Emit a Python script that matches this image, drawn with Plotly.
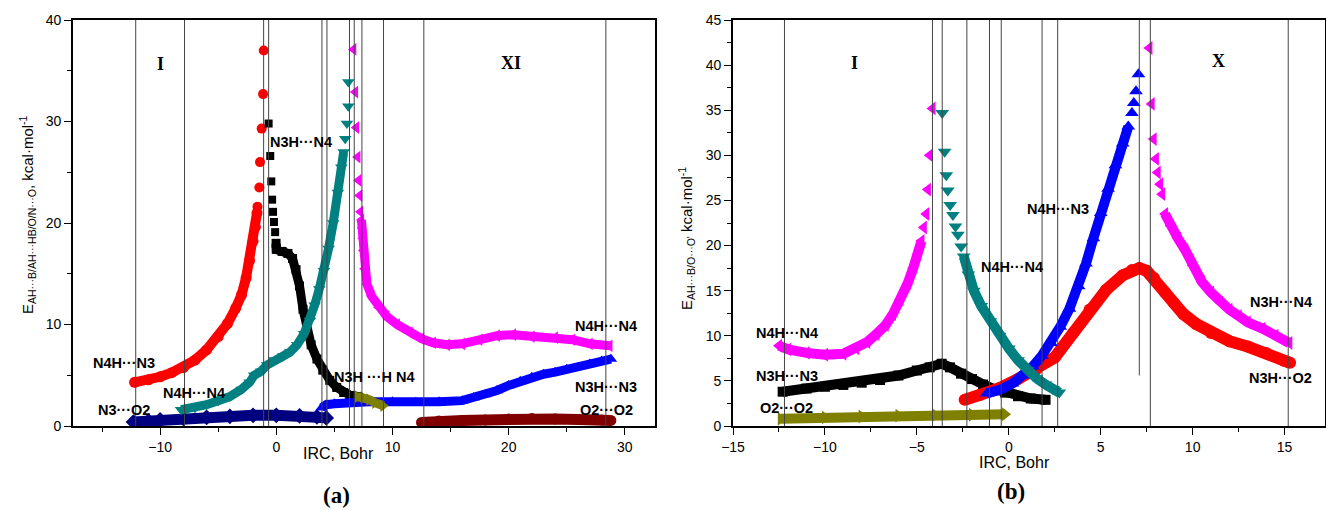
import plotly.graph_objects as go

# ================= Panel (a) data =================
# N4H...N3 (red circles)
a_red_x = [-12.2, -11, -10, -9, -8, -7, -6, -5, -4.2, -3.5, -3.0, -2.6, -2.3, -2.0, -1.8, -1.66]
a_red_y = [4.3, 4.55, 4.85, 5.25, 5.75, 6.5, 7.5, 8.8, 10.1, 11.6, 12.9, 14.6, 16.3, 18.2, 19.6, 21.0]
a_red_top_x = [-1.62, -1.46, -1.4, -1.26, -1.14, -1.08]
a_red_top_y = [21.6, 23.5, 26.0, 29.3, 32.7, 37.0]
# N3H...N4 (black squares)
a_blk_x = [-0.02, 0.0, 0.5, 1.0, 1.4, 1.7, 2.0, 2.3, 2.6, 3.0, 3.5, 4.0, 4.6, 5.2, 5.8, 6.4, 7.0]
a_blk_y = [18.0, 17.4, 17.2, 17.0, 16.5, 15.4, 13.8, 11.5, 9.8, 8.0, 6.6, 5.5, 4.5, 3.8, 3.3, 3.0, 2.9]
a_blk_top_x = [-0.66, -0.52, -0.43, -0.36, -0.28, -0.2, -0.1]
a_blk_top_y = [29.8, 26.6, 24.1, 22.3, 21.1, 20.1, 19.1]
# N4H...N4 (teal down triangles)
a_teal_x = [-8.2, -7, -6, -5, -4, -3, -2.3, -1.9, -1.3, -0.8, -0.2, 0.6, 1.2, 1.8, 2.4, 2.9, 3.3, 3.7, 4.1, 4.5, 4.9, 5.3, 5.6, 5.8]
a_teal_y = [1.6, 1.8, 2.1, 2.5, 2.9, 3.6, 4.3, 5.0, 5.4, 6.0, 6.5, 6.9, 7.3, 8.0, 9.1, 10.4, 11.9, 13.5, 15.3, 17.5, 20.0, 23.0, 25.5, 27.0]
a_teal_top_x = [5.93, 6.08, 6.2, 6.2]
a_teal_top_y = [28.3, 29.8, 31.5, 33.9]
# N4H...N4 (magenta left triangles)
a_mag_x = [7.33, 7.4, 7.45, 7.5, 7.6, 7.8, 8.2, 8.8, 9.5, 10.4, 11.5, 12.5, 13.5, 14.7, 16, 17.5, 19, 20.4, 22, 24, 25.5, 27, 28.7]
a_mag_y = [20.3, 19.5, 18.5, 17.3, 15.5, 14.0, 12.8, 11.7, 10.8, 10.0, 9.2, 8.6, 8.2, 8.0, 8.1, 8.5, 8.9, 9.0, 8.8, 8.7, 8.5, 8.1, 7.9]
a_mag_top_x = [6.65, 6.8, 6.88, 7.0, 7.08, 7.17, 7.25]
a_mag_top_y = [37.1, 32.9, 29.4, 26.5, 24.2, 22.7, 21.1]
# N3H...N3 (blue up triangles)
a_blue_x = [3.9, 4.3, 5, 6, 7, 8, 10, 12, 14, 16, 17, 18, 19, 20, 21, 22, 23, 24, 25, 26, 27, 28, 28.8]
a_blue_y = [1.8, 2.1, 2.2, 2.3, 2.35, 2.4, 2.4, 2.35, 2.4, 2.5, 2.8, 3.1, 3.5, 4.0, 4.4, 4.8, 5.1, 5.3, 5.6, 5.8, 6.1, 6.4, 6.6]
# N3H...H N4 (olive)
a_olive_x = [7.0, 7.5, 8.0, 8.5, 9.2]
a_olive_y = [2.9, 2.8, 2.6, 2.3, 2.0]
# N3...O2 (navy)
a_navy_x = [-12.3, -11, -10, -8, -6, -4, -2, 0, 2, 3.5, 4.3]
a_navy_y = [0.4, 0.5, 0.6, 0.75, 0.85, 0.95, 1.05, 1.05, 1.0, 0.9, 0.8]
# O2...O2 (maroon)
a_mar_x = [12.5, 14, 16, 18, 20, 22, 24, 26, 28, 28.8]
a_mar_y = [0.35, 0.5, 0.55, 0.6, 0.7, 0.75, 0.7, 0.65, 0.6, 0.55]
# vertical reference lines (IRC, Bohr)
a_vlines = [-12.1, -7.9, -1.09, -0.66, 3.93, 4.36, 6.3, 6.71, 7.37, 9.23, 12.7, 28.37]

# ================= Panel (b) data =================
# N4H...N4 (magenta left triangles, left branch)
b_mag1_x = [-12.5, -12, -11, -10, -9, -8.3, -7.7, -7.2, -6.7, -6.3, -5.9, -5.5, -5.2, -4.95, -4.75]
b_mag1_y = [8.9, 8.5, 8.1, 7.9, 8.0, 8.6, 9.3, 10.2, 11.2, 12.4, 14.0, 15.8, 17.5, 19.0, 20.5]
b_mag1_top_x = [-4.62, -4.49, -4.4, -4.3, -4.15]
b_mag1_top_y = [22.0, 23.5, 26.2, 30.0, 35.2]
# N4H...N4 (teal down triangles)
b_teal_x = [-2.45, -2.2, -1.9, -1.5, -1.0, -0.5, 0, 0.5, 1.0, 1.5, 2.0, 2.4, 2.75]
b_teal_y = [18.8, 16.8, 15.0, 13.3, 11.6, 10.0, 8.6, 7.3, 6.2, 5.3, 4.6, 4.1, 3.7]
b_teal_top_x = [-3.62, -3.49, -3.4, -3.32, -3.19, -3.04, -2.9, -2.77, -2.59]
b_teal_top_y = [34.7, 30.4, 27.8, 26.1, 24.5, 23.4, 22.1, 21.2, 19.9]
# N3H...N3 (black squares)
b_blk_x = [-12.3, -11, -10, -9, -8, -7, -6, -5, -4.3, -3.65, -3.2, -2.6, -2, -1.4, -0.8, -0.2, 0.5, 1.2, 2.0]
b_blk_y = [3.8, 4.15, 4.35, 4.55, 4.8, 5.1, 5.6, 6.15, 6.5, 6.9, 6.5, 5.8, 5.2, 4.6, 4.1, 3.7, 3.3, 3.05, 2.9]
# O2...O2 (olive right triangles)
b_olive_x = [-12.4, -10, -8, -6, -4, -2, -0.2]
b_olive_y = [0.8, 0.95, 1.05, 1.15, 1.2, 1.25, 1.3]
# N3H...O2 (red circles)
b_red_x = [-2.4, -1.6, -0.5, 0.5, 1.5, 2.5, 3.5, 4.4, 5.3, 6.2, 6.7, 7.1, 7.5, 7.9, 8.5, 9.0, 9.5, 10.2, 11, 12, 13, 14, 15, 15.3]
b_red_y = [2.9, 3.4, 4.2, 5.2, 6.3, 7.6, 10.3, 12.9, 15.1, 16.7, 17.3, 17.5, 17.2, 16.4, 14.8, 13.6, 12.4, 11.3, 10.3, 9.4, 8.8, 8.1, 7.2, 7.0]
# N4H...N3 (blue up triangles)
b_blue_x = [-1.2, -0.5, 0.2, 0.8, 1.3, 1.8, 2.3, 2.8, 3.3, 3.8, 4.2, 4.6, 5.0, 5.4, 5.8, 6.2, 6.5]
b_blue_y = [3.6, 4.0, 4.7, 5.6, 6.6, 7.8, 9.2, 11.0, 13.0, 15.5, 18.0, 20.8, 23.6, 26.3, 28.9, 31.3, 33.2]
b_blue_top_x = [6.7, 6.8, 6.92, 7.05]
b_blue_top_y = [34.7, 35.8, 37.1, 39.0]
# N3H...N4 (magenta left triangles, right branch)
b_mag2_x = [8.5, 8.8, 9.2, 9.6, 10.0, 10.5, 11.0, 11.5, 12.0, 12.5, 13.0, 13.8, 14.5, 15.26]
b_mag2_y = [23.5, 22.2, 20.8, 19.5, 17.8, 16.0, 14.8, 13.7, 12.9, 12.2, 11.5, 10.8, 10.0, 9.2]
b_mag2_top_x = [7.65, 7.77, 7.88, 8.0, 8.1, 8.23, 8.34]
b_mag2_top_y = [41.9, 35.7, 31.8, 29.6, 28.1, 26.8, 25.7]
b_vlines = [-12.2, -4.15, -3.62, -2.28, -1.05, -0.41, 1.81, 2.66, 7.1, 7.7, 15.2]

W, H = 1326, 510
SANS = "Liberation Sans, Arial, sans-serif"
SERIF = "Liberation Serif, Times New Roman, serif"

fig = go.Figure()


def band(x, y, xa, ya, color, symbol, size, lw):
    fig.add_trace(go.Scatter(x=x, y=y, xaxis=xa, yaxis=ya, mode="lines+markers",
                             line=dict(color=color, width=lw),
                             marker=dict(color=color, symbol=symbol, size=size, line=dict(width=0)),
                             showlegend=False, hoverinfo="skip"))


def dots(x, y, xa, ya, color, symbol, size):
    fig.add_trace(go.Scatter(x=x, y=y, xaxis=xa, yaxis=ya, mode="markers",
                             marker=dict(color=color, symbol=symbol, size=size, line=dict(width=0)),
                             showlegend=False, hoverinfo="skip"))


RED, BLK, TEAL, MAG, BLUE, OLIVE, NAVY, MAR = "#ff0000", "#000000", "#008080", "#ff00ff", "#0000ff", "#808000", "#000080", "#800000"

# panel (a)
band(a_navy_x, a_navy_y, "x", "y", NAVY, "diamond", 12, 11)
band(a_mar_x, a_mar_y, "x", "y", MAR, "circle", 11, 11)
band(a_red_x, a_red_y, "x", "y", RED, "circle", 11, 10)
dots(a_red_top_x, a_red_top_y, "x", "y", RED, "circle", 10)
band(a_blk_x, a_blk_y, "x", "y", BLK, "square", 9, 9)
dots(a_blk_top_x, a_blk_top_y, "x", "y", BLK, "square", 8)
band(a_teal_x, a_teal_y, "x", "y", TEAL, "triangle-down", 11, 9)
dots(a_teal_top_x, a_teal_top_y, "x", "y", TEAL, "triangle-down", 11)
band(a_mag_x, a_mag_y, "x", "y", MAG, "triangle-left", 11, 9)
dots(a_mag_top_x, a_mag_top_y, "x", "y", MAG, "triangle-left", 11)
band(a_blue_x, a_blue_y, "x", "y", BLUE, "triangle-up", 11, 9)
band(a_olive_x, a_olive_y, "x", "y", OLIVE, "triangle-right", 11, 9)

# panel (b)
band(b_olive_x, b_olive_y, "x2", "y2", OLIVE, "triangle-right", 12, 10)
band(b_blk_x, b_blk_y, "x2", "y2", BLK, "square", 10, 10)
band(b_red_x, b_red_y, "x2", "y2", RED, "circle", 12, 12)
band(b_blue_x, b_blue_y, "x2", "y2", BLUE, "triangle-up", 12, 10)
dots(b_blue_top_x, b_blue_top_y, "x2", "y2", BLUE, "triangle-up", 12)
band(b_teal_x, b_teal_y, "x2", "y2", TEAL, "triangle-down", 12, 10)
dots(b_teal_top_x, b_teal_top_y, "x2", "y2", TEAL, "triangle-down", 12)
band(b_mag1_x, b_mag1_y, "x2", "y2", MAG, "triangle-left", 12, 10)
dots(b_mag1_top_x, b_mag1_top_y, "x2", "y2", MAG, "triangle-left", 12)
band(b_mag2_x, b_mag2_y, "x2", "y2", MAG, "triangle-left", 12, 10)
dots(b_mag2_top_x, b_mag2_top_y, "x2", "y2", MAG, "triangle-left", 12)

# vertical lines
shapes = []
for v in a_vlines:
    shapes.append(dict(type="line", xref="x", yref="y", x0=v, x1=v, y0=0, y1=40,
                       line=dict(color="#444444", width=1), layer="above"))
for v in b_vlines:
    y0 = 5.6 if v == 7.1 else 0
    shapes.append(dict(type="line", xref="x2", yref="y2", x0=v, x1=v, y0=y0, y1=45,
                       line=dict(color="#444444", width=1), layer="above"))

tickfont = dict(family=SANS, size=14, color="black")
base = dict(showline=True, linecolor="black", linewidth=1.6, mirror=True, showgrid=False,
            zeroline=False, ticks="outside", ticklen=7, tickwidth=1.4, tickcolor="black",
            tickfont=tickfont, automargin=False)
inside = dict(showline=False, showgrid=False, zeroline=False, ticks="inside", ticklen=7,
              tickwidth=1.4, tickcolor="black", showticklabels=False, automargin=False)
dom_a = [73 / W, 655 / W]
dom_b = [733 / W, 1325 / W]
dom_y = [84 / H, 490 / H]

fig.update_layout(
    template="none",
    width=W, height=H, margin=dict(l=0, r=0, t=0, b=0, pad=0, autoexpand=False),
    paper_bgcolor="white", plot_bgcolor="white", showlegend=False,
    font=dict(family=SANS, size=14, color="black"),
    xaxis=dict(domain=dom_a, range=[-17.5, 32.6], tick0=0, dtick=10, anchor="y",
               minor=dict(dtick=5, ticks="outside", ticklen=4, tickwidth=1.4, tickcolor="black"), **base),
    yaxis=dict(domain=dom_y, range=[0, 40], tick0=0, dtick=10, anchor="x",
               minor=dict(dtick=5, ticks="outside", ticklen=4, tickwidth=1.4, tickcolor="black"), **base),
    xaxis2=dict(domain=dom_b, range=[-15, 17.2], tick0=0, dtick=5, anchor="y2",
                minor=dict(dtick=2.5, ticks="outside", ticklen=4, tickwidth=1.4, tickcolor="black"), **base),
    yaxis2=dict(domain=dom_y, range=[0, 45], tick0=0, dtick=5, anchor="x2",
                minor=dict(dtick=2.5, ticks="outside", ticklen=4, tickwidth=1.4, tickcolor="black"), **base),
    xaxis3=dict(overlaying="x", anchor="y", side="top", range=[-17.5, 32.6], tick0=0, dtick=5, **inside),
    yaxis3=dict(overlaying="y", anchor="x", side="right", range=[0, 40], tick0=0, dtick=5, **inside),
    xaxis4=dict(overlaying="x2", anchor="y2", side="top", range=[-15, 17.2], tick0=0, dtick=2.5, **inside),
    yaxis4=dict(overlaying="y2", anchor="x2", side="right", range=[0, 45], tick0=0, dtick=5, **inside),
    shapes=shapes,
)

ann = []


def lab(text, x, y, xref, yref, size=14.5, family=SANS, bold=True):
    t = "<b>" + text + "</b>" if bold else text
    ann.append(dict(text=t, x=x, y=y, xref=xref, yref=yref, showarrow=False,
                    font=dict(family=family, size=size, color="black"), xanchor="center", yanchor="middle"))


# series labels panel (a)
lab("N3H···N4", 2.15, 28.0, "x", "y")
lab("N4H···N3", -13.07, 6.2, "x", "y")
lab("N4H···N4", -7.05, 3.25, "x", "y")
lab("N3···O2", -13.07, 1.58, "x", "y")
lab("N3H ···H N4", 8.43, 4.83, "x", "y")
lab("N4H···N4", 28.4, 9.85, "x", "y")
lab("N3H···N3", 28.4, 3.84, "x", "y")
lab("O2···O2", 28.4, 1.58, "x", "y")
lab("I", -9.97, 35.7, "x", "y", size=18, family=SERIF)
lab("XI", 20.2, 35.8, "x", "y", size=18, family=SERIF)
# series labels panel (b)
lab("N4H···N4", -12.08, 10.3, "x2", "y2")
lab("N3H···N3", -12.08, 5.54, "x2", "y2")
lab("O2···O2", -12.08, 2.0, "x2", "y2")
lab("N4H···N4", 0.15, 17.6, "x2", "y2")
lab("N4H···N3", 2.7, 24.1, "x2", "y2")
lab("N3H···N4", 14.8, 13.75, "x2", "y2")
lab("N3H···O2", 14.8, 5.3, "x2", "y2")
lab("I", -8.39, 40.2, "x2", "y2", size=18, family=SERIF)
lab("X", 11.4, 40.4, "x2", "y2", size=18, family=SERIF)

# axis titles & panel captions (paper coords from pixel positions)
def pp(px, py):
    return px / W, 1 - py / H


for txt, (px, py), ang, sz, fam in [
    ("E<sub>AH···B/AH···HB/O/N···O</sub>, kcal·mol<sup>-1</sup>", (27, 215), -90, 15, SANS),
    ("E<sub>AH···B/O···O'</sub> kcal·mol<sup>-1</sup>", (686, 239), -90, 15, SANS),
    ("IRC, Bohr", (338, 453), 0, 16, SANS),
    ("IRC, Bohr", (1015, 462), 0, 16, SANS),
    ("<b>(a)</b>", (336, 495), 0, 23, SERIF),
    ("<b>(b)</b>", (1011, 491), 0, 23, SERIF),
]:
    x, y = pp(px, py)
    ann.append(dict(text=txt, x=x, y=y, xref="paper", yref="paper", showarrow=False, textangle=ang,
                    font=dict(family=fam, size=sz, color="black"), xanchor="center", yanchor="middle"))

fig.update_layout(annotations=ann)
fig.write_html("out.html")
